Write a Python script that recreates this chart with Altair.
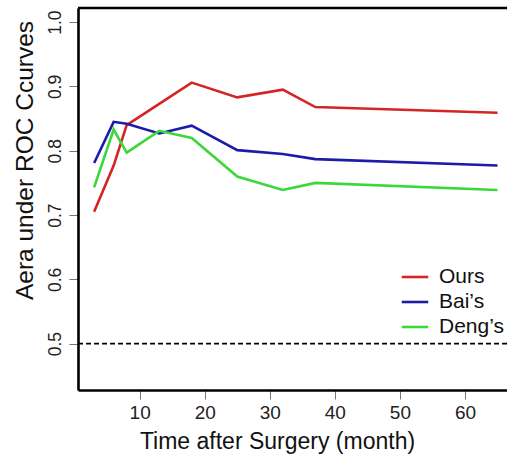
import altair as alt
import pandas as pd

months = [3, 6, 8, 13, 18, 25, 32, 37, 65]
ours = [0.705, 0.777, 0.840, 0.873, 0.906, 0.883, 0.895, 0.868, 0.859]
bais = [0.781, 0.845, 0.842, 0.827, 0.839, 0.801, 0.795, 0.787, 0.777]
dengs = [0.743, 0.833, 0.797, 0.831, 0.820, 0.760, 0.739, 0.750, 0.739]
series_names = ["Ours", "Bai\u2019s", "Deng\u2019s"]
series_colors = ["#d42424", "#1c1caa", "#3ad83a"]
x_ticks = [10, 20, 30, 40, 50, 60]
y_ticks = [0.5, 0.6, 0.7, 0.8, 0.9, 1.0]
ref_value = [0.5]

rows = []
for name, vals in zip(series_names, [ours, bais, dengs]):
    for m, v in zip(months, vals):
        rows.append({"month": m, "auc": v, "method": name})
df = pd.DataFrame(rows)

W, H = 429, 382
FONT = "Liberation Sans"

xscale = alt.Scale(domain=[0.52, 66.46], nice=False, zero=False)
yscale = alt.Scale(domain=[0.428, 1.022], nice=False, zero=False)

lines = alt.Chart(df).mark_line(strokeWidth=2.6).encode(
    x=alt.X("month:Q", scale=xscale,
            axis=alt.Axis(values=x_ticks, title="Time after Surgery (month)",
                          grid=False, domainColor="black", domainWidth=2.6,
                          tickColor="#777777", tickWidth=1, tickSize=9,
                          labelFontSize=19, labelPadding=4, labelColor="#222222",
                          labelFont=FONT, titleFont=FONT, titleFontSize=23,
                          titleFontWeight="normal", titleColor="#111111",
                          titleX=199, titleY=58, titleBaseline="alphabetic",
                          titleAnchor="start", titleAlign="center")),
    y=alt.Y("auc:Q", scale=yscale,
            axis=alt.Axis(values=y_ticks, format=".1f", title="Aera under ROC Ccurves",
                          grid=False, domainColor="black", domainWidth=2.6,
                          tickColor="#777777", tickWidth=1, tickSize=9,
                          labelFontSize=17.5, labelPadding=5, labelColor="#222222",
                          labelAngle=270, labelAlign="center", labelBaseline="bottom",
                          labelFont=FONT, titleFont=FONT, titleFontSize=24.5,
                          titleFontWeight="normal", titleColor="#111111",
                          titleAngle=270, titleX=-46, titleY=152,
                          titleBaseline="alphabetic", titleAlign="center")),
    color=alt.Color("method:N",
                    scale=alt.Scale(domain=series_names, range=series_colors),
                    sort=series_names,
                    legend=alt.Legend(title=None, orient="none", legendX=322, legendY=254,
                                      symbolType="stroke", symbolStrokeWidth=2.6,
                                      symbolSize=700, labelFontSize=21, labelFont=FONT,
                                      labelColor="#111111", labelOffset=9, rowPadding=0)),
    detail="method:N",
)

ref = alt.Chart(pd.DataFrame({"v": ref_value})).mark_rule(
    color="black", strokeWidth=1.8, strokeDash=[5, 3]
).encode(y=alt.Y("v:Q", scale=yscale))

top_border = alt.Chart(pd.DataFrame({"v": ref_value})).mark_rule(
    color="black", strokeWidth=2.6
).encode(x=alt.value(0), x2=alt.value(W), y=alt.value(0))

chart = alt.layer(ref, lines, top_border).properties(
    width=W, height=H,
    autosize=alt.AutoSizeParams(type="none"),
    padding={"left": 78, "top": 8, "right": 0, "bottom": 76},
).configure_view(stroke=None).configure(background="white")

chart.save("out.html", embed_options={"renderer": "svg", "actions": False})
